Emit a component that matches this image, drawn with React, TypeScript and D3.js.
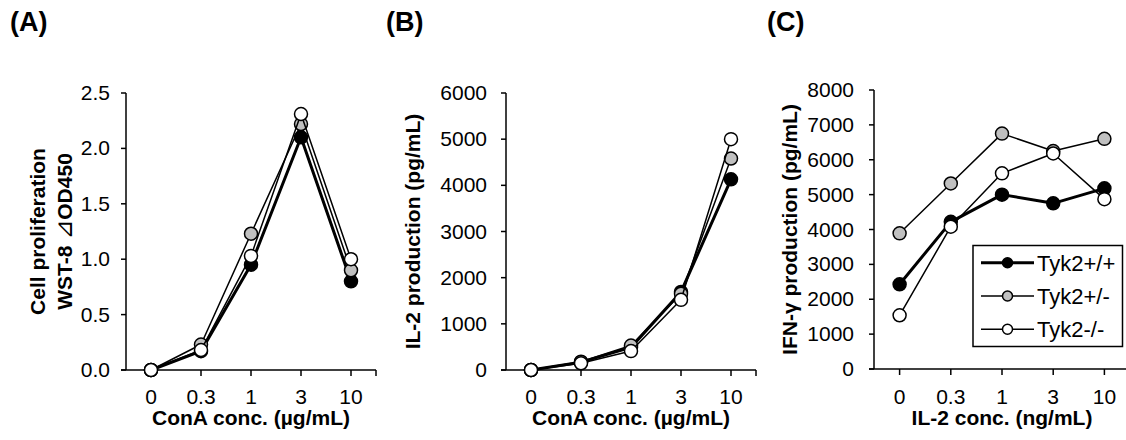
import React from "react";
import * as d3 from "d3";

const categories = ["0", "0.3", "1", "3", "10"];
const seriesNames = ["Tyk2+/+", "Tyk2+/-", "Tyk2-/-"];

const prolifWT = [0, 0.17, 0.95, 2.1, 0.8];
const prolifHet = [0, 0.23, 1.23, 2.22, 0.9];
const prolifKO = [0, 0.18, 1.03, 2.31, 1.0];

const il2WT = [0, 170, 490, 1690, 4130];
const il2Het = [0, 180, 530, 1650, 4580];
const il2KO = [0, 145, 410, 1520, 5000];

const ifngWT = [2430, 4220, 5000, 4750, 5180];
const ifngHet = [3890, 5320, 6750, 6250, 6600];
const ifngKO = [1540, 4080, 5610, 6180, 4870];

const ticksA = [0, 0.5, 1.0, 1.5, 2.0, 2.5];
const ticksB = [0, 1000, 2000, 3000, 4000, 5000, 6000];
const ticksC = [0, 1000, 2000, 3000, 4000, 5000, 6000, 7000, 8000];

const FONT = "'Liberation Sans', Arial, sans-serif";
const fills = ["#000000", "#c0c0c0", "#ffffff"];
const widths = [3, 1.5, 1.5];

type Panel = {
  label: string;
  labelX: number;
  x0: number;
  x1: number;
  yTop: number;
  yBot: number;
  domainMax: number;
  ticks: number[];
  fmt: (v: number) => string;
  labelRight: number;
  series: number[][];
  yTitle: React.ReactNode[];
  yTitleX: number[];
  xTitle: string;
};

const panels: Panel[] = [
  {
    label: "(A)", labelX: 10, x0: 126, x1: 376, yTop: 93, yBot: 370,
    domainMax: 2.5, ticks: ticksA, fmt: d3.format(".1f"), labelRight: 110,
    series: [prolifWT, prolifHet, prolifKO],
    yTitle: [
      "Cell proliferation",
      <>WST-8 <tspan fontFamily="'DejaVu Sans', sans-serif" fontWeight="normal" fontSize={24}>{"\u22BF"}</tspan>OD450</>,
    ],
    yTitleX: [45, 72],
    xTitle: "ConA conc. (\u00B5g/mL)",
  },
  {
    label: "(B)", labelX: 386, x0: 506, x1: 756, yTop: 93, yBot: 370,
    domainMax: 6000, ticks: ticksB, fmt: d3.format("d"), labelRight: 487,
    series: [il2WT, il2Het, il2KO],
    yTitle: ["IL-2 production (pg/mL)"], yTitleX: [420],
    xTitle: "ConA conc. (\u00B5g/mL)",
  },
  {
    label: "(C)", labelX: 767, x0: 874, x1: 1130, yTop: 90, yBot: 369,
    domainMax: 8000, ticks: ticksC, fmt: d3.format("d"), labelRight: 854,
    series: [ifngWT, ifngHet, ifngKO],
    yTitle: ["IFN-\u03B3 production (pg/mL)"], yTitleX: [797],
    xTitle: "IL-2 conc. (ng/mL)",
  },
];

function PanelView({ p, legend }: { p: Panel; legend: boolean }) {
  const x = d3.scaleBand<string>().domain(categories).range([p.x0, p.x1]).paddingInner(0).paddingOuter(0);
  const cx = (c: string) => (x(c) as number) + x.bandwidth() / 2;
  const y = d3.scaleLinear().domain([0, p.domainMax]).range([p.yBot, p.yTop]);
  const line = d3.line<number>().x((_, i) => cx(categories[i])).y((v) => y(v));
  const yMid = (p.yTop + p.yBot) / 2;
  const xMid = (p.x0 + p.x1) / 2;
  return (
    <g>
      <text x={p.labelX} y={31} fontFamily={FONT} fontWeight="bold" fontSize={27}>{p.label}</text>
      <line x1={p.x0} x2={p.x0} y1={p.yTop} y2={p.yBot} stroke="#000" strokeWidth={1.5} />
      <line x1={p.x0 - 5} x2={p.x1} y1={p.yBot} y2={p.yBot} stroke="#000" strokeWidth={1.5} />
      {p.ticks.map((t) => (
        <g key={t}>
          <line x1={p.x0 - 5} x2={p.x0} y1={y(t)} y2={y(t)} stroke="#000" strokeWidth={1.5} />
          <text x={p.labelRight} y={y(t) + 7} textAnchor="end" fontFamily={FONT} fontSize={21}>{p.fmt(t)}</text>
        </g>
      ))}
      {categories.map((c) => (
        <g key={c}>
          <line x1={cx(c)} x2={cx(c)} y1={p.yBot} y2={p.yBot + 6} stroke="#000" strokeWidth={1.5} />
          <text x={cx(c)} y={404} textAnchor="middle" fontFamily={FONT} fontSize={21}>{c}</text>
        </g>
      ))}
      <line x1={p.x1} x2={p.x1} y1={p.yBot} y2={p.yBot + 6} stroke="#000" strokeWidth={1.5} />
      {p.yTitle.map((t, i) => (
        <text key={i} transform={`translate(${p.yTitleX[i]},${yMid}) rotate(-90)`} textAnchor="middle"
          fontFamily={FONT} fontWeight="bold" fontSize={21}>{t}</text>
      ))}
      <text x={xMid} y={425} textAnchor="middle" fontFamily={FONT} fontWeight="bold" fontSize={21}>{p.xTitle}</text>
      {p.series.map((s, si) => (
        <g key={si}>
          <path d={line(s) || ""} fill="none" stroke="#000" strokeWidth={widths[si]} strokeLinejoin="round" />
          {s.map((v, i) => (
            <circle key={i} cx={cx(categories[i])} cy={y(v)} r={6.5} fill={fills[si]} stroke="#000" strokeWidth={1.5} />
          ))}
        </g>
      ))}
      {legend && (
        <g>
          <rect x={973} y={245.5} width={149.5} height={101} fill="#fff" stroke="#000" strokeWidth={1.5} />
          {seriesNames.map((n, i) => {
            const ly = 262.7 + i * 33.3;
            return (
              <g key={n}>
                <line x1={981} x2={1034} y1={ly} y2={ly} stroke="#000" strokeWidth={widths[i]} />
                <circle cx={1007.5} cy={ly} r={5} fill={fills[i]} stroke="#000" strokeWidth={1.5} />
                <text x={1037} y={ly + 8} fontFamily={FONT} fontSize={22}>{n}</text>
              </g>
            );
          })}
        </g>
      )}
    </g>
  );
}

export default function App() {
  return (
    <svg width={1126} height={440} style={{ position: "absolute", left: 0, top: 0, background: "#fff" }}>
      <rect x={0} y={0} width={1126} height={440} fill="#fff" />
      {panels.map((p, i) => (
        <PanelView key={i} p={p} legend={i === 2} />
      ))}
    </svg>
  );
}
